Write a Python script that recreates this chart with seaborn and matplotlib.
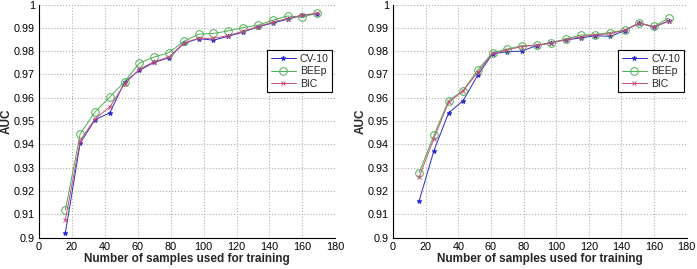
import pandas as pd
import matplotlib
matplotlib.use('Agg')
import matplotlib.pyplot as plt
import seaborn as sns

sns.set_style('white')
plt.rcParams['font.family'] = ['Liberation Sans', 'DejaVu Sans']

# training set sizes
n_samples = [16, 25, 34, 43, 52, 61, 70, 79, 88, 97, 106, 115, 124, 133, 142, 151, 160, 169]

# left panel
left_cv10 = [0.9020, 0.9405, 0.9506, 0.9535, 0.9668, 0.9718, 0.9752, 0.9772, 0.9833, 0.9854,
             0.9847, 0.9864, 0.9882, 0.9904, 0.9921, 0.9937, 0.9954, 0.9961]
left_beep = [0.9118, 0.9445, 0.9539, 0.9603, 0.9669, 0.9749, 0.9775, 0.9794, 0.9842, 0.9873,
             0.9876, 0.9887, 0.9901, 0.9911, 0.9933, 0.9951, 0.9946, 0.9963]
left_bic = [0.9077, 0.9415, 0.9510, 0.9560, 0.9660, 0.9722, 0.9755, 0.9775, 0.9835, 0.9855,
            0.9855, 0.9867, 0.9885, 0.9905, 0.9925, 0.9940, 0.9955, 0.9962]

# right panel
right_cv10 = [0.9158, 0.9372, 0.9534, 0.9588, 0.9698, 0.9788, 0.9798, 0.9800, 0.9824, 0.9837,
              0.9849, 0.9856, 0.9867, 0.9863, 0.9888, 0.9921, 0.9903, 0.9930]
right_beep = [0.9279, 0.9438, 0.9588, 0.9631, 0.9720, 0.9794, 0.9809, 0.9823, 0.9826, 0.9834,
              0.9853, 0.9869, 0.9871, 0.9880, 0.9891, 0.9920, 0.9906, 0.9942]
right_bic = [0.9260, 0.9425, 0.9580, 0.9630, 0.9710, 0.9790, 0.9805, 0.9820, 0.9825, 0.9835,
             0.9850, 0.9862, 0.9870, 0.9875, 0.9890, 0.9920, 0.9905, 0.9928]

styles = {
    'CV-10': dict(color='#2b2bc8', marker='*', markersize=3.5, markerfacecolor='#2b2bc8'),
    'BEEp': dict(color='#4caf50', marker='o', markersize=5.5, markerfacecolor='none'),
    'BIC': dict(color='#c8507a', marker='x', markersize=2.5),
}

fig = plt.figure(figsize=(6.97, 2.69), dpi=100)
ax1 = fig.add_axes([0.056, 0.117, 0.425, 0.866])
ax2 = fig.add_axes([0.564, 0.117, 0.421, 0.866])

for ax, cv, beep, bic in [(ax1, left_cv10, left_beep, left_bic),
                          (ax2, right_cv10, right_beep, right_bic)]:
    df = pd.DataFrame({'n': n_samples, 'CV-10': cv, 'BEEp': beep, 'BIC': bic})
    for name in ['CV-10', 'BEEp', 'BIC']:
        st = styles[name]
        sns.lineplot(data=df, x='n', y=name, ax=ax, label=name, linewidth=0.7,
                     color=st['color'], marker=st['marker'], markersize=st['markersize'],
                     markerfacecolor=st.get('markerfacecolor', st['color']),
                     markeredgecolor=st['color'], markeredgewidth=0.7)
    ax.set_xlim(0, 180)
    ax.set_ylim(0.9, 1.0)
    ax.set_xticks(range(0, 181, 20))
    ax.set_yticks([0.9, 0.91, 0.92, 0.93, 0.94, 0.95, 0.96, 0.97, 0.98, 0.99, 1.0])
    ax.set_yticklabels(['0.9', '0.91', '0.92', '0.93', '0.94', '0.95', '0.96', '0.97',
                        '0.98', '0.99', '1'])
    ax.grid(True, linestyle=':', color='#b0b0b0', linewidth=0.8)
    for s in ['top', 'right']:
        ax.spines[s].set_visible(False)
    for s in ['left', 'bottom']:
        ax.spines[s].set_color('black')
        ax.spines[s].set_linewidth(0.8)
    ax.tick_params(direction='in', length=3, labelsize=7.8, colors='black', pad=3)
    ax.set_xlabel('Number of samples used for training', fontsize=8.5, fontweight='bold',
                  labelpad=1)
    ax.set_ylabel('AUC', fontsize=8.5, fontweight='bold', labelpad=1)
    leg = ax.legend(loc='upper right', bbox_to_anchor=(0.99, 0.805), borderaxespad=0,
                    fontsize=7.5, fancybox=False, edgecolor='black', framealpha=1,
                    borderpad=0.35, handlelength=2.4, handletextpad=0.4, labelspacing=0.25)
    leg.get_frame().set_linewidth(0.8)

fig.savefig('out.png', dpi=100)
